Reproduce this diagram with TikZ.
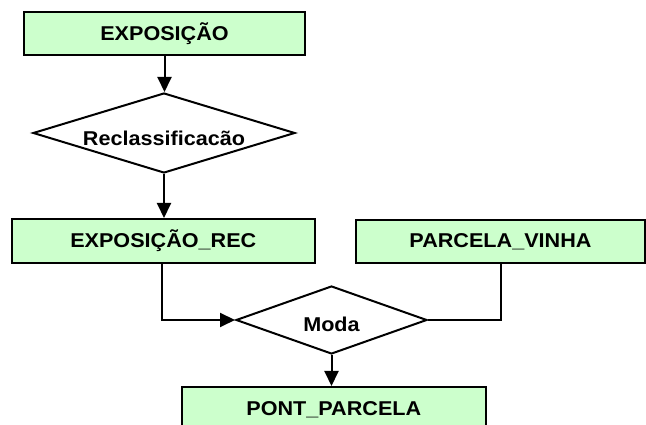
\documentclass[tikz,border=0pt]{standalone}
\usepackage{fontspec}
\setmainfont{Liberation Sans}[FakeStretch=1.08]
\usetikzlibrary{shapes.geometric,arrows.meta}
\definecolor{boxgreen}{HTML}{CCFFCC}
\begin{document}
\begin{tikzpicture}[x=1pt,y=1pt,
  entity/.style={draw=black, line width=2pt, fill=boxgreen, inner sep=0pt,
    font=\fontsize{20}{24}\selectfont\bfseries},
  decision/.style={draw=black, line width=2pt, fill=white, diamond, inner sep=0pt,
    font=\fontsize{20}{24}\selectfont\bfseries},
  conn/.style={line width=2pt},
  arr/.style={conn, -{Triangle[length=15pt,width=14pt]}}]
\clip (0,0) rectangle (646,425);
\useasboundingbox (0,0) rectangle (646,425);
\node[entity, minimum width=281pt, minimum height=43pt] (b1) at (164.5,391.5) {EXPOSIÇÃO};
\node[decision, minimum width=262pt, minimum height=80pt] (d1) at (164,292) {};
\node[font=\fontsize{20}{24}\selectfont\bfseries] (t1) at (164,287) {Reclassificacão};
\node[entity, minimum width=303pt, minimum height=44pt] (b2) at (163.3,184) {EXPOSIÇÃO\_REC};
\node[entity, minimum width=289pt, minimum height=43pt] (b3) at (500.5,183.5) {PARCELA\_VINHA};
\node[decision, minimum width=191pt, minimum height=68pt] (d2) at (331.5,105) {};
\node[font=\fontsize{20}{24}\selectfont\bfseries] (t2) at (331.5,101) {Moda};
\node[entity, minimum width=304pt, minimum height=46pt] (p) at (333.8,15) {PONT\_PARCELA};
\draw[arr] (b1.south) -- (b1.south |- d1.north);
\draw[arr] (d1.south) -- (d1.south |- b2.north);
\draw[arr] ([xshift=-1.5pt]b2.south) |- (d2.west);
\draw[conn] (b3.south) |- (d2.east);
\draw[arr] (d2.south) -- (d2.south |- p.north);
\end{tikzpicture}
\end{document}
